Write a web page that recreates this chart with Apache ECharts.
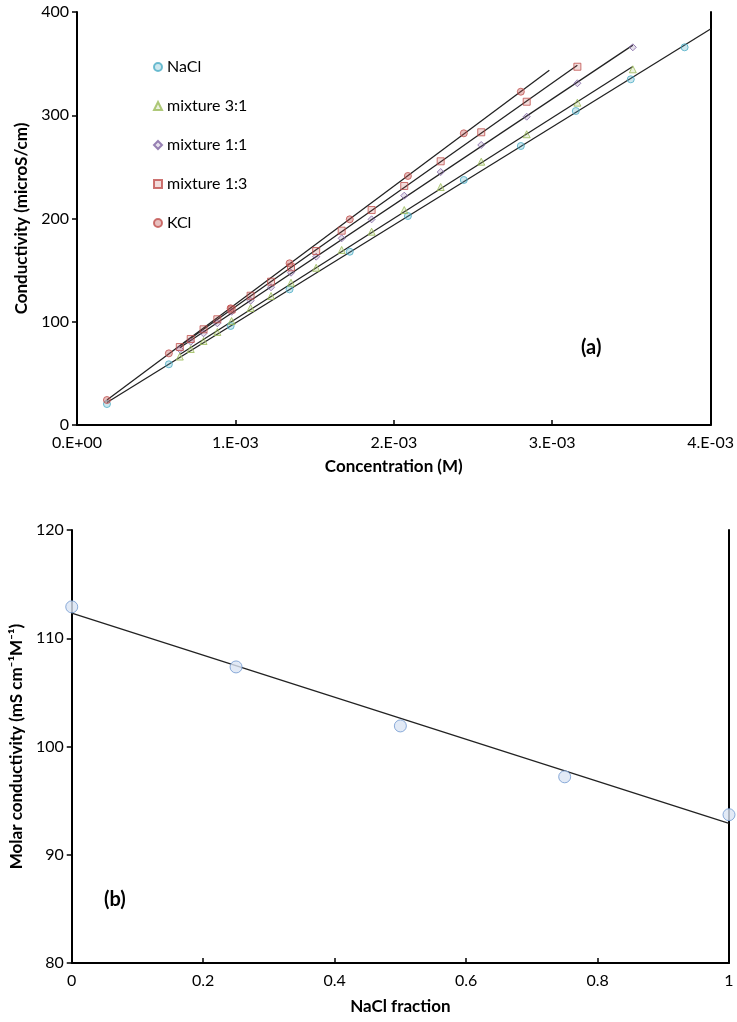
<!DOCTYPE html>
<html>
<head>
<meta charset="utf-8">
<script src="https://cdn.jsdelivr.net/npm/echarts@6/dist/echarts.min.js"></script>
<style>
html,body{margin:0;padding:0;background:#fff;}
#c{width:737px;height:1022px;}
</style>
</head>
<body>
<div id="c"></div>
<script>
// ---- Panel (a) data ----
const saltConc = [0.000189, 0.000580, 0.000970, 0.001342, 0.001722, 0.002089, 0.002442, 0.002802, 0.003149, 0.003496, 0.003836];
const naclCond = [20.3, 58.8, 95.9, 131.4, 167.8, 202.4, 237.3, 270.2, 304.1, 334.8, 365.8];
const kclCond = [24.2, 69.4, 113.0, 156.6, 199.2, 241.2, 282.5, 322.8];
const mixConc = [0.000649, 0.000718, 0.000799, 0.000886, 0.000976, 0.001096, 0.001225, 0.001351, 0.001510, 0.001671, 0.001860, 0.002066, 0.002296, 0.002552, 0.002839, 0.003159, 0.003509];
const mix31Cond = [66.3, 73.6, 81.4, 90.1, 100.7, 113.3, 124.9, 137.8, 152.3, 169.5, 187.2, 208.2, 230.5, 255.0, 281.6, 312.2, 344.5];
const mix11Cond = [73.3, 80.7, 88.8, 98.5, 109.7, 120.4, 133.4, 147.5, 163.0, 180.8, 199.2, 222.1, 245.0, 271.2, 298.6, 331.0, 365.8];
const mix13Cond = [75.5, 83.3, 92.7, 102.4, 111.9, 125.2, 138.8, 152.7, 168.5, 188.2, 208.2, 231.5, 255.4, 283.5, 313.1, 347.0];
const seriesNames = ['NaCl', 'mixture 3:1', 'mixture 1:1', 'mixture 1:3', 'KCl'];
const xTicksA = ['0.E+00', '1.E-03', '2.E-03', '3.E-03', '4.E-03'];
// ---- Panel (b) data ----
const naclFraction = [0, 0.25, 0.5, 0.75, 1];
const molarCond = [112.9, 107.35, 101.9, 97.2, 93.7];

function pairs(xs, ys) { return ys.map((y, i) => [xs[i], y]); }
function fit(xs, ys) {
  const n = ys.length; let sx = 0, sy = 0, sxx = 0, sxy = 0;
  for (let i = 0; i < n; i++) { sx += xs[i]; sy += ys[i]; sxx += xs[i] * xs[i]; sxy += xs[i] * ys[i]; }
  const b = (n * sxy - sx * sy) / (n * sxx - sx * sx);
  const a = (sy - b * sx) / n;
  return { a, b };
}
function trend(xs, ys, forward, xmax) {
  const x = xs.slice(0, ys.length);
  const f = fit(x, ys);
  const x0 = Math.min(...x);
  let x1 = Math.max(...x) + forward;
  if (xmax !== undefined && x1 > xmax) x1 = xmax;
  return [[x0, f.a + f.b * x0], [x1, f.a + f.b * x1]];
}

const FONT = 'Lato';
const cols = {
  nacl: { b: '#4bacc6', f: 'rgba(75,172,198,0.35)' },
  m31: { b: '#9bbb59', f: 'rgba(155,187,89,0.25)' },
  m11: { b: '#8064a2', f: 'rgba(128,100,162,0.25)' },
  m13: { b: '#c0504d', f: 'rgba(192,80,77,0.25)' },
  kcl: { b: '#c0504d', f: 'rgba(192,80,77,0.45)' }
};

function scat(name, data, sym, c, size) {
  return { name, type: 'scatter', xAxisIndex: 0, yAxisIndex: 0, data, symbol: sym, symbolSize: size,
    itemStyle: { color: c.f, borderColor: c.b, borderWidth: 1 }, z: 3, silent: true };
}
function tline(data, xi, yi) {
  return { type: 'line', xAxisIndex: xi, yAxisIndex: yi, data, symbol: 'none', silent: true,
    lineStyle: { color: '#222', width: 1.3 }, z: 2 };
}

const axisLine = { show: true, lineStyle: { color: '#000', width: 2 } };
const label = { color: '#000', fontFamily: FONT, fontSize: 16 };
const nameStyle = { color: '#000', fontFamily: FONT, fontSize: 17, fontWeight: 'bold' };
const fitB = fit(naclFraction, molarCond);

const option = {
  animation: false,
  backgroundColor: '#fff',
  grid: [
    { left: 77, right: 19, top: 12, height: 413 },
    { left: 67, right: 8, top: 530, height: 433 }
  ],
  legend: {
    data: seriesNames, orient: 'vertical', left: 148, top: 54, itemGap: 23,
    itemWidth: 8, itemHeight: 8, textStyle: { color: '#000', fontFamily: FONT, fontSize: 16 }, selectedMode: false
  },
  xAxis: [
    { gridIndex: 0, type: 'value', min: 0, max: 0.004, interval: 0.001, axisLine,
      axisTick: { show: true, inside: true, length: 5, lineStyle: { color: '#000', width: 1.5 } },
      splitLine: { show: false },
      axisLabel: Object.assign({ margin: 10, formatter: (v) => xTicksA[Math.round(v * 1000)] }, label),
      name: 'Concentration (M)', nameLocation: 'middle', nameGap: 33, nameTextStyle: nameStyle },
    { gridIndex: 1, type: 'value', min: 0, max: 1, interval: 0.2, axisLine,
      axisTick: { show: true, inside: true, length: 5, lineStyle: { color: '#000', width: 1.5 } },
      splitLine: { show: false },
      axisLabel: Object.assign({ margin: 10, formatter: (v) => String(Math.round(v * 10) / 10) }, label),
      name: 'NaCl fraction', nameLocation: 'middle', nameGap: 35, nameTextStyle: nameStyle }
  ],
  yAxis: [
    { gridIndex: 0, type: 'value', min: 0, max: 400, interval: 100, axisLine,
      axisTick: { show: true, length: 5, lineStyle: { color: '#000', width: 1.5 } },
      splitLine: { show: false }, axisLabel: Object.assign({ margin: 8 }, label),
      name: 'Conductivity (microS/cm)', nameLocation: 'middle', nameGap: 45, nameTextStyle: nameStyle },
    { gridIndex: 0, type: 'value', min: 0, max: 400, interval: 100, position: 'right', axisLine,
      axisTick: { show: false }, axisLabel: { show: false }, splitLine: { show: false } },
    { gridIndex: 1, type: 'value', min: 80, max: 120, interval: 10, axisLine,
      axisTick: { show: true, length: 5, lineStyle: { color: '#000', width: 1.5 } },
      splitLine: { show: false }, axisLabel: Object.assign({ margin: 8 }, label),
      name: 'Molar conductivity (mS cm\u207B\u00B9M\u207B\u00B9)', nameLocation: 'middle', nameGap: 43, nameTextStyle: nameStyle },
    { gridIndex: 1, type: 'value', min: 80, max: 120, interval: 10, position: 'right', axisLine,
      axisTick: { show: false }, axisLabel: { show: false }, splitLine: { show: false } }
  ],
  graphic: [
    { type: 'text', left: 581, top: 338, style: { text: '(a)', fill: '#000', font: 'bold 20px Lato' } },
    { type: 'text', left: 104, top: 890, style: { text: '(b)', fill: '#000', font: 'bold 20px Lato' } }
  ],
  series: [
    tline(trend(saltConc, naclCond, 0.00018, 0.004), 0, 0),
    tline(trend(mixConc, mix31Cond, 0), 0, 0),
    tline(trend(mixConc, mix11Cond, 0), 0, 0),
    tline(trend(mixConc, mix13Cond, 0), 0, 0),
    tline(trend(saltConc, kclCond, 0.00018), 0, 0),
    scat('NaCl', pairs(saltConc, naclCond), 'circle', cols.nacl, 7),
    scat('mixture 3:1', pairs(mixConc, mix31Cond), 'triangle', cols.m31, 7),
    scat('mixture 1:1', pairs(mixConc, mix11Cond), 'diamond', cols.m11, 7),
    scat('mixture 1:3', pairs(mixConc, mix13Cond), 'rect', cols.m13, 7),
    scat('KCl', pairs(saltConc, kclCond), 'circle', cols.kcl, 7),
    tline([[0, fitB.a], [1, fitB.a + fitB.b]], 1, 2),
    { type: 'scatter', xAxisIndex: 1, yAxisIndex: 2, data: pairs(naclFraction, molarCond), symbol: 'circle', symbolSize: 12,
      itemStyle: { color: '#dbe5f4', borderColor: '#6f97cf', borderWidth: 1 }, z: 3, silent: true }
  ]
};
const chart = echarts.init(document.getElementById('c'));
chart.setOption(option);
</script>
</body>
</html>
